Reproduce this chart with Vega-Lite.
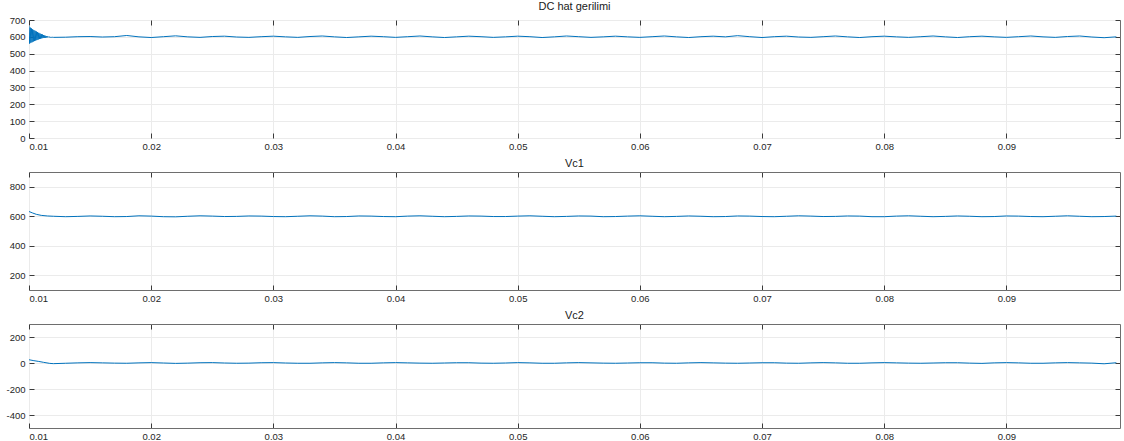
{
  "$schema": "https://vega.github.io/schema/vega-lite/v6.json",
  "autosize": {"type": "pad"},
  "padding": {"left": 5, "top": 0, "right": 2, "bottom": 0},
  "background": "white",
  "spacing": 34,
  "bounds": "flush",
  "config": {
    "font": "Liberation Sans",
    "view": {"stroke": "#6e6e6e", "strokeWidth": 1},
    "title": {"fontSize": 11, "fontWeight": "normal", "color": "#1a1a1a", "offset": 3},
    "axis": {
      "labelFontSize": 9.5, "labelColor": "#262626", "gridColor": "#ebebeb", "gridOpacity": 1,
      "domain": false, "tickColor": "#3a3a3a", "tickSize": -5, "labelPadding": 9, "title": null,
      "labelExpr": "datum.value + ''"
    },
    "axisX": {"labelPadding": 8},
    "line": {"color": "#0072BD", "strokeWidth": 1}
  },
  "datasets": {
    "dc": [
      {"t":0.01,"v":665},{"t":0.01005,"v":560},{"t":0.0101,"v":655},{"t":0.01015,"v":565},{"t":0.0102,"v":650},{"t":0.01025,"v":568},{"t":0.0103,"v":645},{"t":0.01035,"v":572},{"t":0.0104,"v":640},{"t":0.01045,"v":575},{"t":0.0105,"v":636},{"t":0.01055,"v":578},{"t":0.0106,"v":632},{"t":0.01065,"v":581},{"t":0.0107,"v":628},{"t":0.01075,"v":584},{"t":0.0108,"v":624},{"t":0.01085,"v":587},{"t":0.0109,"v":620},{"t":0.01095,"v":589},{"t":0.011,"v":617},{"t":0.01105,"v":591},{"t":0.0111,"v":614},{"t":0.01115,"v":593},{"t":0.0112,"v":611},{"t":0.01125,"v":594},{"t":0.0113,"v":608},{"t":0.01135,"v":595},{"t":0.0114,"v":605},{"t":0.01145,"v":596},{"t":0.0115,"v":603},{"t":0.01155,"v":597},{"t":0.0116,"v":601},{"t":0.01165,"v":597},{"t":0.0117,"v":600},{"t":0.01175,"v":597},{"t":0.0118,"v":599},{"t":0.01185,"v":597},{"t":0.0119,"v":598},{"t":0.01195,"v":597},
      {"t":0.012,"v":597},{"t":0.013,"v":598},{"t":0.014,"v":601},{"t":0.015,"v":602},{"t":0.016,"v":599},{"t":0.017,"v":601},{"t":0.018,"v":608},{"t":0.019,"v":600},{"t":0.02,"v":596},{"t":0.021,"v":601},{"t":0.022,"v":606},{"t":0.023,"v":600},{"t":0.024,"v":597},{"t":0.025,"v":602},{"t":0.026,"v":604},{"t":0.027,"v":599},{"t":0.028,"v":597},{"t":0.029,"v":601},{"t":0.03,"v":604},{"t":0.031,"v":600},{"t":0.032,"v":597},{"t":0.033,"v":602},{"t":0.034,"v":605},{"t":0.035,"v":600},{"t":0.036,"v":596},{"t":0.037,"v":600},{"t":0.038,"v":604},{"t":0.039,"v":601},{"t":0.04,"v":597},{"t":0.041,"v":601},{"t":0.042,"v":605},{"t":0.043,"v":600},{"t":0.044,"v":596},{"t":0.045,"v":600},{"t":0.046,"v":604},{"t":0.047,"v":601},{"t":0.048,"v":597},{"t":0.049,"v":600},{"t":0.05,"v":604},{"t":0.051,"v":601},{"t":0.052,"v":596},{"t":0.053,"v":600},{"t":0.054,"v":605},{"t":0.055,"v":601},{"t":0.056,"v":597},{"t":0.057,"v":600},{"t":0.058,"v":604},{"t":0.059,"v":600},{"t":0.06,"v":597},{"t":0.061,"v":601},{"t":0.062,"v":605},{"t":0.063,"v":600},{"t":0.064,"v":596},{"t":0.065,"v":601},{"t":0.066,"v":604},{"t":0.067,"v":600},{"t":0.068,"v":607},{"t":0.069,"v":601},{"t":0.07,"v":596},{"t":0.071,"v":601},{"t":0.072,"v":604},{"t":0.073,"v":599},{"t":0.074,"v":597},{"t":0.075,"v":601},{"t":0.076,"v":605},{"t":0.077,"v":600},{"t":0.078,"v":596},{"t":0.079,"v":601},{"t":0.08,"v":604},{"t":0.081,"v":600},{"t":0.082,"v":597},{"t":0.083,"v":601},{"t":0.084,"v":605},{"t":0.085,"v":600},{"t":0.086,"v":596},{"t":0.087,"v":601},{"t":0.088,"v":604},{"t":0.089,"v":600},{"t":0.09,"v":597},{"t":0.091,"v":601},{"t":0.092,"v":605},{"t":0.093,"v":600},{"t":0.094,"v":597},{"t":0.095,"v":602},{"t":0.096,"v":605},{"t":0.097,"v":599},{"t":0.098,"v":595},{"t":0.099,"v":600}
    ],
    "vc1": [
      {"t":0.01,"v":632},{"t":0.0103,"v":622},{"t":0.0106,"v":613},{"t":0.011,"v":606},{"t":0.0115,"v":602},
      {"t":0.012,"v":600},{"t":0.013,"v":597},{"t":0.014,"v":599},{"t":0.015,"v":602},{"t":0.016,"v":600},{"t":0.017,"v":597},{"t":0.018,"v":598},{"t":0.019,"v":603},{"t":0.02,"v":601},{"t":0.021,"v":597},{"t":0.022,"v":596},{"t":0.023,"v":600},{"t":0.024,"v":603},{"t":0.025,"v":601},{"t":0.026,"v":598},{"t":0.027,"v":599},{"t":0.028,"v":602},{"t":0.029,"v":601},{"t":0.03,"v":598},{"t":0.031,"v":597},{"t":0.032,"v":600},{"t":0.033,"v":603},{"t":0.034,"v":601},{"t":0.035,"v":597},{"t":0.036,"v":598},{"t":0.037,"v":602},{"t":0.038,"v":601},{"t":0.039,"v":598},{"t":0.04,"v":597},{"t":0.041,"v":601},{"t":0.042,"v":603},{"t":0.043,"v":600},{"t":0.044,"v":597},{"t":0.045,"v":599},{"t":0.046,"v":602},{"t":0.047,"v":601},{"t":0.048,"v":598},{"t":0.049,"v":598},{"t":0.05,"v":601},{"t":0.051,"v":603},{"t":0.052,"v":600},{"t":0.053,"v":597},{"t":0.054,"v":599},{"t":0.055,"v":602},{"t":0.056,"v":601},{"t":0.057,"v":597},{"t":0.058,"v":598},{"t":0.059,"v":601},{"t":0.06,"v":603},{"t":0.061,"v":600},{"t":0.062,"v":597},{"t":0.063,"v":599},{"t":0.064,"v":602},{"t":0.065,"v":600},{"t":0.066,"v":597},{"t":0.067,"v":598},{"t":0.068,"v":602},{"t":0.069,"v":601},{"t":0.07,"v":598},{"t":0.071,"v":597},{"t":0.072,"v":600},{"t":0.073,"v":603},{"t":0.074,"v":601},{"t":0.075,"v":598},{"t":0.076,"v":599},{"t":0.077,"v":602},{"t":0.078,"v":601},{"t":0.079,"v":597},{"t":0.08,"v":597},{"t":0.081,"v":601},{"t":0.082,"v":603},{"t":0.083,"v":600},{"t":0.084,"v":597},{"t":0.085,"v":599},{"t":0.086,"v":602},{"t":0.087,"v":600},{"t":0.088,"v":597},{"t":0.089,"v":598},{"t":0.09,"v":602},{"t":0.091,"v":601},{"t":0.092,"v":598},{"t":0.093,"v":597},{"t":0.094,"v":600},{"t":0.095,"v":603},{"t":0.096,"v":600},{"t":0.097,"v":597},{"t":0.098,"v":598},{"t":0.099,"v":601}
    ],
    "vc2": [
      {"t":0.01,"v":25},{"t":0.0104,"v":18},{"t":0.0108,"v":12},{"t":0.0112,"v":5},{"t":0.0117,"v":-3},
      {"t":0.012,"v":-5},{"t":0.013,"v":-2},{"t":0.014,"v":1},{"t":0.015,"v":3},{"t":0.016,"v":1},{"t":0.017,"v":-1},{"t":0.018,"v":-2},{"t":0.019,"v":1},{"t":0.02,"v":3},{"t":0.021,"v":0},{"t":0.022,"v":-3},{"t":0.023,"v":-1},{"t":0.024,"v":2},{"t":0.025,"v":3},{"t":0.026,"v":0},{"t":0.027,"v":-2},{"t":0.028,"v":-1},{"t":0.029,"v":2},{"t":0.03,"v":3},{"t":0.031,"v":0},{"t":0.032,"v":-2},{"t":0.033,"v":-2},{"t":0.034,"v":1},{"t":0.035,"v":3},{"t":0.036,"v":1},{"t":0.037,"v":-2},{"t":0.038,"v":-2},{"t":0.039,"v":1},{"t":0.04,"v":3},{"t":0.041,"v":1},{"t":0.042,"v":-1},{"t":0.043,"v":-2},{"t":0.044,"v":0},{"t":0.045,"v":2},{"t":0.046,"v":2},{"t":0.047,"v":-1},{"t":0.048,"v":-2},{"t":0.049,"v":0},{"t":0.05,"v":3},{"t":0.051,"v":1},{"t":0.052,"v":-2},{"t":0.053,"v":-2},{"t":0.054,"v":1},{"t":0.055,"v":3},{"t":0.056,"v":1},{"t":0.057,"v":-1},{"t":0.058,"v":-2},{"t":0.059,"v":0},{"t":0.06,"v":2},{"t":0.061,"v":2},{"t":0.062,"v":-1},{"t":0.063,"v":-2},{"t":0.064,"v":1},{"t":0.065,"v":3},{"t":0.066,"v":1},{"t":0.067,"v":-1},{"t":0.068,"v":-2},{"t":0.069,"v":0},{"t":0.07,"v":2},{"t":0.071,"v":2},{"t":0.072,"v":-1},{"t":0.073,"v":-2},{"t":0.074,"v":1},{"t":0.075,"v":3},{"t":0.076,"v":1},{"t":0.077,"v":-2},{"t":0.078,"v":-2},{"t":0.079,"v":1},{"t":0.08,"v":3},{"t":0.081,"v":1},{"t":0.082,"v":-1},{"t":0.083,"v":-2},{"t":0.084,"v":0},{"t":0.085,"v":2},{"t":0.086,"v":2},{"t":0.087,"v":-1},{"t":0.088,"v":-3},{"t":0.089,"v":1},{"t":0.09,"v":3},{"t":0.091,"v":1},{"t":0.092,"v":-2},{"t":0.093,"v":-2},{"t":0.094,"v":1},{"t":0.095,"v":3},{"t":0.096,"v":1},{"t":0.097,"v":-1},{"t":0.098,"v":-6},{"t":0.099,"v":2}
    ]
  },
  "vconcat": [
    {
      "title": "DC hat gerilimi",
      "width": 1091, "height": 118,
      "data": {"name": "dc"},
      "resolve": {"axis": {"x": "independent", "y": "independent"}},
      "layer": [
        {
          "mark": {"type": "line", "clip": true},
          "encoding": {
            "x": {"field": "t", "type": "quantitative", "scale": {"domain": [0.01, 0.0993], "nice": false, "zero": false},
                  "axis": {"values": [0.01,0.02,0.03,0.04,0.05,0.06,0.07,0.08,0.09]}},
            "y": {"field": "v", "type": "quantitative", "scale": {"domain": [0, 700], "nice": false},
                  "axis": {"values": [0,100,200,300,400,500,600,700]}}
          }
        },
        {
          "mark": {"type": "line", "clip": true, "opacity": 0},
          "encoding": {
            "x": {"field": "t", "type": "quantitative",
                  "axis": {"orient": "top", "labels": false, "grid": false, "values": [0.01,0.02,0.03,0.04,0.05,0.06,0.07,0.08,0.09]}},
            "y": {"field": "v", "type": "quantitative",
                  "axis": {"orient": "right", "labels": false, "grid": false, "values": [0,100,200,300,400,500,600,700]}}
          }
        }
      ]
    },
    {
      "title": "Vc1",
      "width": 1091, "height": 118,
      "data": {"name": "vc1"},
      "resolve": {"axis": {"x": "independent", "y": "independent"}},
      "layer": [
        {
          "mark": {"type": "line", "clip": true},
          "encoding": {
            "x": {"field": "t", "type": "quantitative", "scale": {"domain": [0.01, 0.0993], "nice": false, "zero": false},
                  "axis": {"values": [0.01,0.02,0.03,0.04,0.05,0.06,0.07,0.08,0.09]}},
            "y": {"field": "v", "type": "quantitative", "scale": {"domain": [100, 900], "nice": false, "zero": false},
                  "axis": {"values": [200,400,600,800]}}
          }
        },
        {
          "mark": {"type": "line", "clip": true, "opacity": 0},
          "encoding": {
            "x": {"field": "t", "type": "quantitative",
                  "axis": {"orient": "top", "labels": false, "grid": false, "values": [0.01,0.02,0.03,0.04,0.05,0.06,0.07,0.08,0.09]}},
            "y": {"field": "v", "type": "quantitative",
                  "axis": {"orient": "right", "labels": false, "grid": false, "values": [200,400,600,800]}}
          }
        }
      ]
    },
    {
      "title": "Vc2",
      "width": 1091, "height": 104,
      "data": {"name": "vc2"},
      "resolve": {"axis": {"x": "independent", "y": "independent"}},
      "layer": [
        {
          "mark": {"type": "line", "clip": true},
          "encoding": {
            "x": {"field": "t", "type": "quantitative", "scale": {"domain": [0.01, 0.0993], "nice": false, "zero": false},
                  "axis": {"values": [0.01,0.02,0.03,0.04,0.05,0.06,0.07,0.08,0.09]}},
            "y": {"field": "v", "type": "quantitative", "scale": {"domain": [-500, 300], "nice": false, "zero": false},
                  "axis": {"values": [-400,-200,0,200]}}
          }
        },
        {
          "mark": {"type": "line", "clip": true, "opacity": 0},
          "encoding": {
            "x": {"field": "t", "type": "quantitative",
                  "axis": {"orient": "top", "labels": false, "grid": false, "values": [0.01,0.02,0.03,0.04,0.05,0.06,0.07,0.08,0.09]}},
            "y": {"field": "v", "type": "quantitative",
                  "axis": {"orient": "right", "labels": false, "grid": false, "values": [-400,-200,0,200]}}
          }
        }
      ]
    }
  ]
}
